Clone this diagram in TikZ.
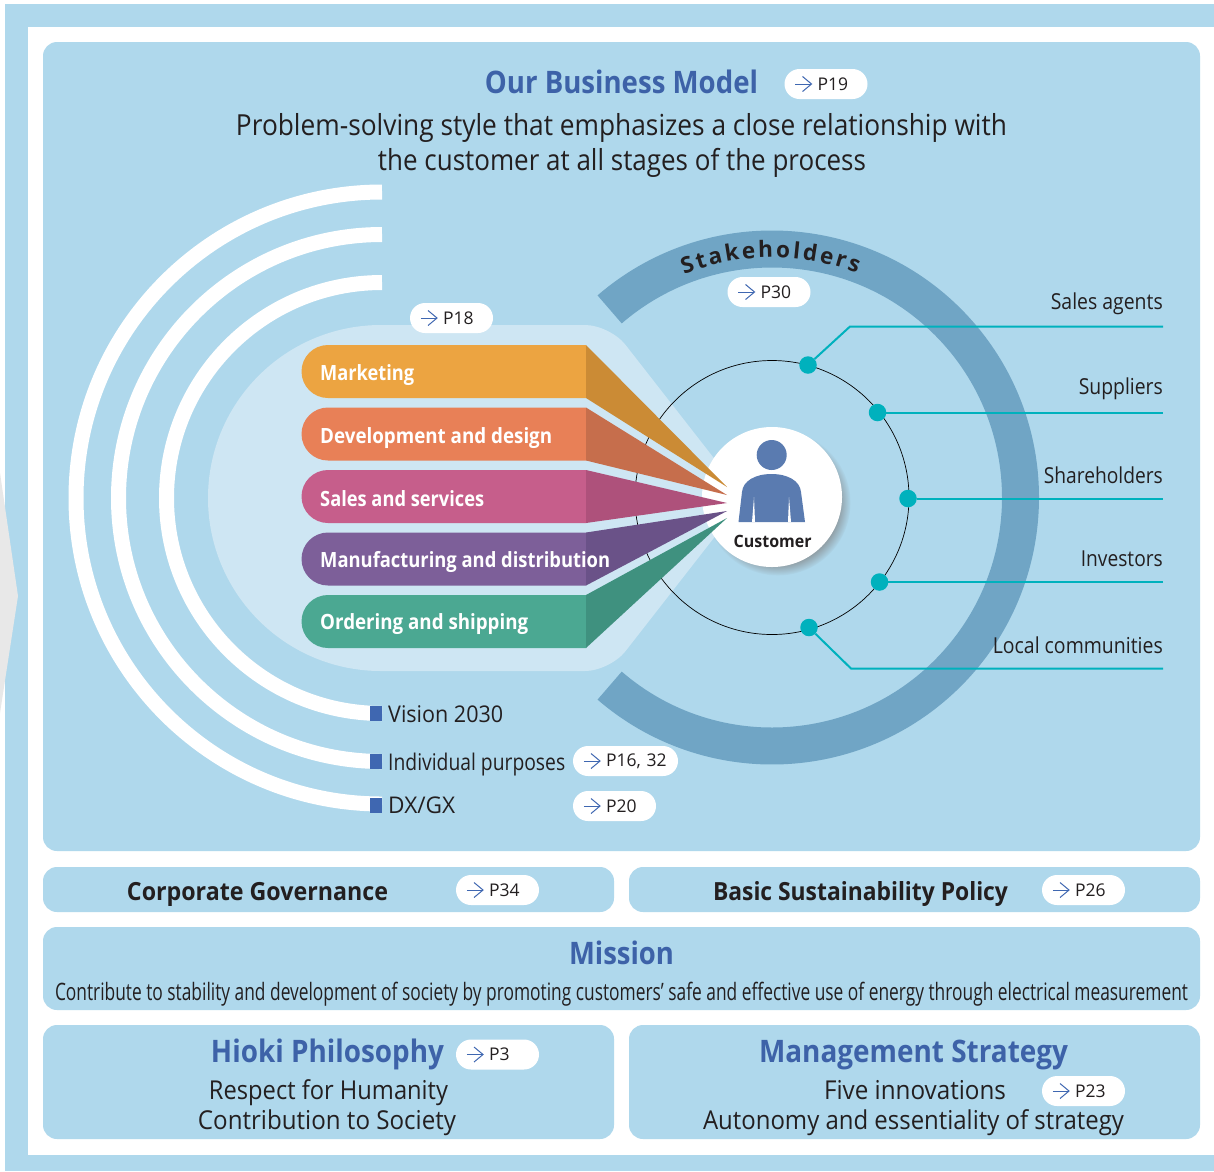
\documentclass[tikz,border=0pt]{standalone}
\usepackage{fontspec}
\setmainfont{Open Sans}
\usetikzlibrary{positioning,arrows.meta,shapes.misc,shadows,decorations.text}

\definecolor{skyblue}{HTML}{AFD8EC}
\definecolor{paleblue}{HTML}{CEE6F3}
\definecolor{ringblue}{HTML}{70A5C5}
\definecolor{headblue}{HTML}{3D62A8}
\definecolor{squareblue}{HTML}{3F67B1}
\definecolor{userblue}{HTML}{5A7BB0}
\definecolor{linkteal}{HTML}{00B1BD}
\definecolor{ink}{HTML}{231F20}
\definecolor{sidegrey}{HTML}{E8E8E8}
\definecolor{mktlight}{HTML}{ECA441}
\definecolor{mktdark}{HTML}{CB8B35}
\definecolor{devlight}{HTML}{E88057}
\definecolor{devdark}{HTML}{C66E4C}
\definecolor{saleslight}{HTML}{C65E8B}
\definecolor{salesdark}{HTML}{AE517B}
\definecolor{mfglight}{HTML}{7D5F99}
\definecolor{mfgdark}{HTML}{6A5288}
\definecolor{orderlight}{HTML}{4BA892}
\definecolor{orderdark}{HTML}{3F917F}

\newcommand{\fitw}[2]{\resizebox{#1pt}{\height}{#2}}
\newcommand{\fsize}[1]{\fontsize{#1}{#1}\selectfont}

\tikzset{
panel/.style = {fill=skyblue, rounded corners=14pt, inner sep=0, outer sep=0, minimum height=#1},
barbox/.style = {rounded rectangle, rounded rectangle right arc=none, minimum width=284.5pt, minimum height=53pt, inner sep=0, outer sep=0},
pill/.style = {fill=white, rounded corners=15pt, minimum height=30pt, inner xsep=0, inner ysep=0, text width=#1, align=left, text=ink, font=\fsize{17.5}, execute at begin node={\hspace*{33pt}}},
pill/.default = 83pt,
pagearrow/.style = {draw=squareblue, line width=1pt, -{Straight Barb[length=9pt,width=15pt]}},
arcband/.style = {draw=white, line width=15pt},
tealdot/.style = {circle, fill=linkteal, minimum size=17.5pt, inner sep=0},
link/.style = {draw=linkteal, line width=2pt},
sidetext/.style = {anchor=base east, inner sep=0, text=ink, font=\fsize{22}},
bartext/.style = {anchor=base west, inner sep=0, text=white, font=\fsize{21}\bfseries},
plaintext/.style = {anchor=base, inner sep=0, text=ink, font=\fsize{#1}},
bluetitle/.style = {anchor=base, inner sep=0, text=headblue, font=\fsize{#1}\bfseries},
inktitle/.style = {anchor=base, inner sep=0, text=ink, font=\fsize{25}\bfseries},
itemsquare/.style = {fill=squareblue, minimum size=15pt, minimum width=12pt, inner sep=0},
itemtext/.style = {anchor=base west, inner sep=0, text=ink, font=\fsize{23}}
}

\begin{document}
\begin{tikzpicture}[x=1pt, y=-1pt]
\useasboundingbox (0,0) rectangle (1214,1171);
\fill[white] (0,0) rectangle (1214,1171);
\fill[skyblue] (5,4) rectangle (1214,1171);
\fill[white] (28,27) rectangle (1214,1155);
\fill[sidegrey] (0,473) -- (18,596) -- (0,713) -- cycle;

\node[panel=809pt, minimum width=1157pt] (model) at (621.5,446.5) {};
\node[panel=45pt, minimum width=571pt] (governance) at (328.5,889.5) {};
\node[panel=45pt, minimum width=571pt, right=15pt of governance] (sustainability) {};
\node[panel=83pt, minimum width=1157pt] (mission) at (621.5,968.5) {};
\node[panel=114pt, minimum width=571pt] (philosophy) at (328.5,1082) {};
\node[panel=114pt, minimum width=571pt, right=15pt of philosophy] (strategy) {};

\draw[arcband] (382,192) arc[start angle=90, end angle=270, radius=306pt];
\draw[arcband] (382,234.5) arc[start angle=90, end angle=270, radius=263.5pt];
\draw[arcband] (382,282.5) arc[start angle=90, end angle=270, radius=215.5pt];

\fill[paleblue] (500,325) [rounded corners=25pt] -- (610,325) -- (745,498) -- (610,671) -- (500,671) [sharp corners] -- (381,671) arc[start angle=270, end angle=90, radius=173pt] -- cycle;

\node[circle, minimum size=274pt, inner sep=0] (orbit) at (772,497.5) {};
\fill[ringblue] ([shift={(130.8:267pt)}]orbit.center) arc[start angle=130.8, end angle=-130.8, radius=267pt] -- ([shift={(-130.8:230pt)}]orbit.center) arc[start angle=-130.8, end angle=130.8, radius=230pt] -- cycle;
\draw[black, line width=0.7pt] (orbit.center) circle[radius=137pt];

\path[decorate, decoration={text along path, text={|\fsize{22.5}\bfseries\color{ink}|Stakeholders}, text align={fit to path}}] ([shift={(111.5:240pt)}]orbit.center) arc[start angle=111.5, end angle=69.2, radius=240pt];

\node[tealdot] (dot1) at (808,365) {};
\node[tealdot] (dot2) at (877.5,412.5) {};
\node[tealdot] (dot3) at (908,498.5) {};
\node[tealdot] (dot4) at (879.5,582) {};
\node[tealdot] (dot5) at (809,627.5) {};
\coordinate (bend1) at (850,326.5);
\coordinate (bend5) at (851,668.5);
\coordinate (end1) at (1163,326.5);
\coordinate (end2) at (1163,412.5);
\coordinate (end3) at (1163,498.5);
\coordinate (end4) at (1163,582);
\coordinate (end5) at (1163,668.5);
\draw[link] (dot1) -- (bend1) -- (end1);
\draw[link] (dot2) -- (end2);
\draw[link] (dot3) -- (end3);
\draw[link] (dot4) -- (end4);
\draw[link] (dot5) -- (bend5) -- (end5);

\node[sidetext] (salesagents) at (1163,309) {\fitw{112}{Sales agents}};
\node[sidetext] (suppliers) at (1163,394) {\fitw{84}{Suppliers}};
\node[sidetext] (shareholders) at (1163,483) {\fitw{119}{Shareholders}};
\node[sidetext] (investors) at (1163,566) {\fitw{82}{Investors}};
\node[sidetext] (communities) at (1163,653) {\fitw{170}{Local communities}};

\node[circle, fill=white, minimum size=140pt, inner sep=0, circular drop shadow={shadow xshift=5.5pt, shadow yshift=-5.5pt, opacity=0.62, shadow scale=1.04}] (customer) at (772,497) {};
\fill[userblue] (771.7,455) circle[radius=15pt];
\fill[userblue] (738.5,522) -- (742,492) .. controls (743,481) and (755,474) .. (771.5,474) .. controls (788,474) and (800,481) .. (801,492) -- (805,522) -- cycle;
\fill[white] (754,497) -- (752,522) -- (755,522) -- cycle;
\fill[white] (789,497) -- (791,522) -- (788,522) -- cycle;
\node[anchor=base, inner sep=0, text=ink, font=\fsize{17}\bfseries] (customertext) at (772.7,547) {\fitw{78}{Customer}};

\node[barbox, fill=mktlight] (marketing) at (443.75,371.5) {};
\node[barbox, fill=devlight, below=9.5pt of marketing] (development) {};
\node[barbox, fill=saleslight, below=9.5pt of development] (sales) {};
\node[barbox, fill=mfglight, below=9.5pt of sales] (manufacturing) {};
\node[barbox, fill=orderlight, below=9.5pt of manufacturing] (ordering) {};
\coordinate (tip1) at (727,487);
\coordinate (tip2) at (727,495);
\coordinate (tip3) at (727,503);
\coordinate (tip4) at (727,511);
\coordinate (tip5) at (727,518);
\fill[mktdark] (marketing.north east) -- (tip1) -- (marketing.south east) -- cycle;
\fill[devdark] (development.north east) -- (tip2) -- (development.south east) -- cycle;
\fill[salesdark] (sales.north east) -- (tip3) -- (sales.south east) -- cycle;
\fill[mfgdark] (manufacturing.north east) -- (tip4) -- (manufacturing.south east) -- cycle;
\fill[orderdark] (ordering.north east) -- (tip5) -- (ordering.south east) -- cycle;

\node[bartext] (marketingtext) at (320,380) {\fitw{94}{Marketing}};
\node[bartext] (developmenttext) at (320,443) {\fitw{232}{Development and design}};
\node[bartext] (salestext) at (320,506) {\fitw{164}{Sales and services}};
\node[bartext] (manufacturingtext) at (320,567.5) {\fitw{290}{Manufacturing and distribution}};
\node[bartext] (orderingtext) at (320,629) {\fitw{208}{Ordering and shipping}};

\node[itemsquare] (visionsquare) at (376,713) {};
\node[itemsquare] (purposesquare) at (376,761) {};
\node[itemsquare] (dxsquare) at (376,805) {};
\node[itemtext] (vision) at (388,722) {\fitw{115}{Vision 2030}};
\node[itemtext] (purposes) at (388,770) {\fitw{177}{Individual purposes}};
\node[itemtext] (dxgx) at (388,813) {\fitw{67}{DX/GX}};

\node[bluetitle=31] (modeltitle) at (621.5,93) {\fitw{273}{Our Business Model}};
\node[plaintext=29] (problem1) at (621.5,135) {\fitw{771}{Problem-solving style that emphasizes a close relationship with}};
\node[plaintext=29] (problem2) at (622,170) {\fitw{488}{the customer at all stages of the process}};
\node[inktitle] (governancetext) at (257.5,900) {\fitw{261}{Corporate Governance}};
\node[inktitle] (sustainabilitytext) at (860.5,900) {\fitw{295}{Basic Sustainability Policy}};
\node[bluetitle=31] (missiontext) at (621.5,964) {\fitw{105}{Mission}};
\node[plaintext=24] (missionline) at (621.5,1000) {\fitw{1133}{Contribute to stability and development of society by promoting customers’ safe and effective use of energy through electrical measurement}};
\node[bluetitle=31] (philosophytext) at (327.5,1062) {\fitw{233}{Hioki Philosophy}};
\node[plaintext=26] (respect) at (328.5,1099) {\fitw{239}{Respect for Humanity}};
\node[plaintext=26] (contribution) at (327,1129) {\fitw{258}{Contribution to Society}};
\node[bluetitle=31] (strategytext) at (913.5,1062) {\fitw{309}{Management Strategy}};
\node[plaintext=26] (innovations) at (915,1099) {\fitw{182}{Five innovations}};
\node[plaintext=26] (autonomy) at (913.5,1129) {\fitw{421}{Autonomy and essentiality of strategy}};

\node[pill] (p19) at (826,84) {P19};
\node[pill] (p18) at (451.5,318) {P18};
\node[pill] (p30) at (769,292) {P30};
\node[pill=105pt] (p1632) at (625.5,761) {P16, 32};
\node[pill] (p20) at (614.5,806) {P20};
\node[pill] (p34) at (497.5,890) {P34};
\node[pill] (p26) at (1083.5,890) {P26};
\node[pill] (p3) at (497.5,1054.5) {P3};
\node[pill] (p23) at (1083.5,1091) {P23};
\foreach \chip in {p19,p18,p30,p1632,p20,p34,p26,p3,p23}
\draw[pagearrow] ([xshift=11pt]\chip.west) -- ++(17,0);
\end{tikzpicture}
\end{document}
